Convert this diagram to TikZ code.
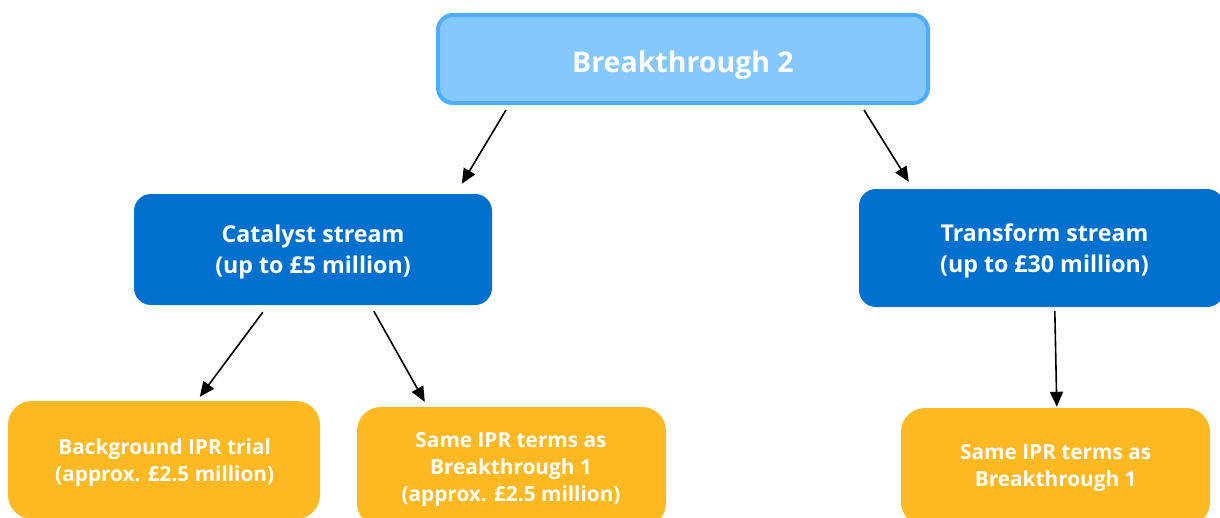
\documentclass[tikz,border=0pt]{standalone}
\usepackage{fontspec}
\setmainfont{Open Sans}
\usetikzlibrary{arrows.meta,calc}
\definecolor{topfill}{HTML}{85C7FF}
\definecolor{topdraw}{HTML}{4DADFF}
\definecolor{bluebox}{HTML}{0070CF}
\definecolor{orangebox}{HTML}{FDB822}
\begin{document}
\begin{tikzpicture}[x=1pt,y=-1pt,
  topbox/.style={rectangle,rounded corners=15pt,fill=topfill,draw=topdraw,line width=4pt,inner sep=0pt},
  streambox/.style={rectangle,rounded corners=17pt,fill=bluebox,draw=none,inner sep=0pt},
  iprbox/.style={rectangle,rounded corners=24pt,fill=orangebox,draw=none,inner sep=0pt},
  toptext/.style={text=white,font=\fontsize{28.5}{36}\selectfont\bfseries,inner sep=0pt,anchor=base},
  streamtext/.style={text=white,font=\fontsize{23.2}{30.6}\selectfont\bfseries,align=center,inner sep=0pt,anchor=base},
  iprtext/.style={text=white,font=\fontsize{20.8}{26.8}\selectfont\bfseries,align=center,inner sep=0pt,anchor=base},
  arr/.style={-{Triangle[length=15pt,width=13pt]},line width=1.6pt,black}]
\useasboundingbox (0,0) rectangle (1220,517);
\clip (0,0) rectangle (1220,517);
% boxes
\node[topbox,minimum width=490pt,minimum height=88pt] (top) at (683,59) {};
\node[streambox,minimum width=358pt,minimum height=111pt] (cat) at (313,249.5) {};
\node[streambox,minimum width=365pt,minimum height=118pt] (tr) at (1041.5,248) {};
\node[iprbox,minimum width=312pt,minimum height=118pt] (bg) at (164,460) {};
\node[iprbox,minimum width=309pt,minimum height=120pt] (mid) at (511.5,467) {};
\node[iprbox,minimum width=309pt,minimum height=118pt] (rt) at (1055.5,467) {};
% texts (anchored at the baseline of their last line)
\node[toptext] (toptxt) at (683,72) {Breakthrough 2};
\node[streamtext] (cattxt) at (313,273.3) {Catalyst stream\\(up to £5 million)};
\node[streamtext] (trtxt) at (1044.5,272.3) {Transform stream\\(up to £30 million)};
\node[iprtext] (bgtxt) at (164.7,481) {Background IPR trial\\(approx. £2.5 million)};
\node[iprtext] (midtxt) at (511,501) {Same IPR terms as\\Breakthrough 1\\(approx. £2.5 million)};
\node[iprtext] (rttxt) at (1055.7,486) {Same IPR terms as\\Breakthrough 1};
% connectors
\draw[arr] ($(top.south west)+(70,5)$) -- ($(cat.north west)+(328,-10)$);
\draw[arr] ($(top.south east)+(-66,5)$) -- ($(tr.north west)+(50,-7)$);
\draw[arr] ($(cat.south west)+(129,7)$) -- ($(bg.north west)+(192,-4)$);
\draw[arr] ($(cat.south west)+(240,6)$) -- ($(mid.north west)+(68,-5)$);
\draw[arr] ($(tr.south west)+(196,4)$) -- ($(rt.north west)+(156,-1)$);
\end{tikzpicture}
\end{document}
